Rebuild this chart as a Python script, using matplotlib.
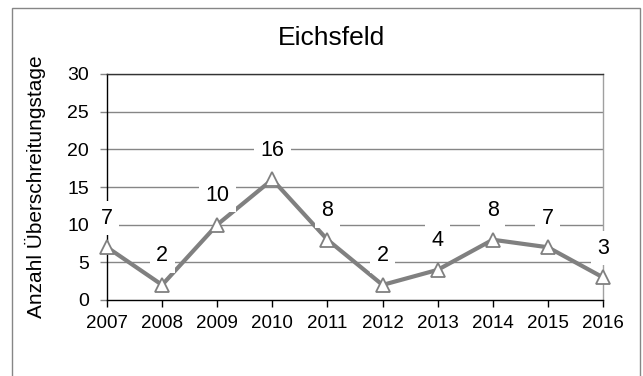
import matplotlib
matplotlib.use("Agg")
import matplotlib.pyplot as plt
from matplotlib.patches import Rectangle

plt.rcParams['font.family'] = ['Liberation Sans', 'DejaVu Sans']

years = ["2007", "2008", "2009", "2010", "2011", "2012", "2013", "2014", "2015", "2016"]
days = [7, 2, 10, 16, 8, 2, 4, 8, 7, 3]
y_ticks = [0, 5, 10, 15, 20, 25, 30]

W, H = 643, 376
fig = plt.figure(figsize=(W / 100, H / 100), dpi=100)

# outer chart frame (bottom edge runs off the canvas)
fig.patches.append(Rectangle((12 / W, -0.05), (640 - 12) / W, 1 - 8 / H + 0.05,
                             transform=fig.transFigure, fill=False,
                             edgecolor='#868686', linewidth=1.0))

ax = fig.add_axes([107 / W, 1 - 300 / H, (603 - 107) / W, (300 - 74) / H])
x = list(range(len(years)))

ax.set_xlim(0, len(years) - 1)
ax.set_ylim(0, 30)
ax.set_yticks(y_ticks)
ax.set_xticks(x)
ax.set_xticklabels(years)
ax.tick_params(axis='both', colors='black', length=5, width=1)
ax.tick_params(axis='y', pad=8, labelsize=14, colors='#868686', labelcolor='black')
ax.tick_params(axis='x', pad=6, labelsize=13.5)

for v in y_ticks[1:]:
    ax.axhline(v, color='#868686', linewidth=1.0, zorder=1)

ax.spines['left'].set_color('black')
ax.spines['bottom'].set_color('black')
ax.spines['right'].set_color('#a0a0a0')
ax.spines['top'].set_color('#333333')
for s in ax.spines.values():
    s.set_linewidth(1.0)

ax.plot(x, days, color='#808080', linewidth=3.0, marker='^', markersize=10,
        markerfacecolor='white', markeredgecolor='#808080', markeredgewidth=1.3,
        clip_on=False, zorder=5)

for xi, v in zip(x, days):
    ax.annotate(str(v), (xi, v), xytext=(0, 21), textcoords='offset points',
                ha='center', va='center', fontsize=15.5, zorder=6,
                bbox=dict(boxstyle='square,pad=0.3', facecolor='white',
                          edgecolor='none'))

ax.set_ylabel("Anzahl Überschreitungstage", fontsize=15)
ax.yaxis.set_label_coords((46 - 107) / 496, 0.5)
fig.text(332 / W, 1 - 38 / H, "Eichsfeld", ha='center', va='center', fontsize=19)

fig.savefig("out.png", dpi=100)
